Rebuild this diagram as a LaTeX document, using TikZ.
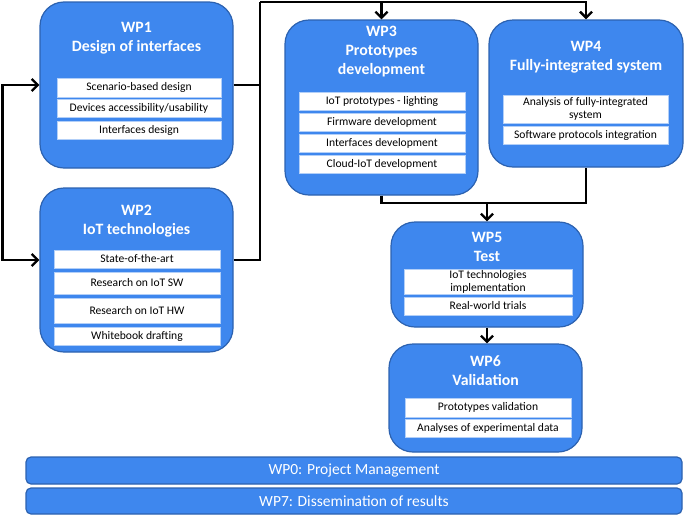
\documentclass[tikz,border=0pt]{standalone}
\usepackage{fontspec}
\setmainfont{Carlito}
\usetikzlibrary{arrows.meta}
\definecolor{wpfill}{RGB}{62,135,238}
\definecolor{wpedge}{RGB}{44,98,176}
\tikzset{
  wpbox/.style={draw=wpedge, line width=1.2pt, fill=wpfill, rounded corners=24pt, inner sep=0pt},
  wpbar/.style={draw=wpedge, line width=1.2pt, fill=wpfill, rounded corners=5pt, inner sep=0pt,
    minimum width=656pt, text=white, font=\fontsize{15.5}{18}\selectfont},
  wptitle/.style={text=white, align=center, font=\fontsize{15.8}{19}\selectfont\bfseries},
  task/.style={fill=white, draw=wpfill!40, line width=0.4pt, inner sep=0pt, align=center,
    font=\fontsize{11.6}{13}\selectfont},
  barb/.tip={Straight Barb[length=6pt,width=12pt,line width=2.4pt]},
  flow/.style={line width=2.6pt, -barb},
  link/.style={line width=2.6pt}
}
\begin{document}
\begin{tikzpicture}[x=1pt,y=-1pt]
    \useasboundingbox (0,0) rectangle (685,517);
    \node [wpbox, minimum width=193pt, minimum height=166pt] (wp1) at (136.5,85) {};
    \node [wptitle] (wp1t) at (136.5,38) {WP1\\Design of interfaces};
    \node [task, minimum width=164pt, minimum height=19pt] (wp1a) at (139,87.5) {Scenario-based design};
    \node [task, minimum width=164pt, minimum height=18pt] (wp1b) at (139,108) {Devices accessibility/usability};
    \node [task, minimum width=164pt, minimum height=18pt] (wp1c) at (139,130) {Interfaces design};

    \node [wpbox, minimum width=193pt, minimum height=164pt] (wp2) at (136.5,270) {};
    \node [wptitle] (wp2t) at (136.5,221) {WP2\\IoT technologies};
    \node [task, minimum width=166pt, minimum height=18pt] (wp2a) at (137,259) {State-of-the-art};
    \node [task, minimum width=166pt, minimum height=22pt] (wp2b) at (137,283) {Research on IoT SW};
    \node [task, minimum width=166pt, minimum height=25pt] (wp2c) at (137,310.5) {Research on IoT HW};
    \node [task, minimum width=166pt, minimum height=18pt] (wp2d) at (137,336) {Whitebook drafting};

    \node [wpbox, minimum width=193pt, minimum height=175pt] (wp3) at (381.5,107.5) {};
    \node [wptitle] (wp3t) at (381.5,51.5) {WP3\\Prototypes\\development};
    \node [task, minimum width=166pt, minimum height=18pt] (wp3a) at (382,101) {IoT prototypes - lighting};
    \node [task, minimum width=166pt, minimum height=18pt] (wp3b) at (382,122) {Firmware development};
    \node [task, minimum width=166pt, minimum height=18pt] (wp3c) at (382,143) {Interfaces development};
    \node [task, minimum width=166pt, minimum height=18pt] (wp3d) at (382,164) {Cloud-IoT development};

    \node [wpbox, minimum width=194pt, minimum height=147pt] (wp4) at (586,93.5) {};
    \node [wptitle] (wp4t) at (586,57.5) {WP4\\Fully-integrated system};
    \node [task, minimum width=165pt, minimum height=28pt] (wp4a) at (585.5,109) {Analysis of fully-integrated\\system};
    \node [task, minimum width=165pt, minimum height=18pt] (wp4b) at (585.5,135) {Software protocols integration};

    \node [wpbox, minimum width=192pt, minimum height=105pt] (wp5) at (487,274.5) {};
    \node [wptitle] (wp5t) at (487,247) {WP5\\Test};
    \node [task, minimum width=168pt, minimum height=25pt] (wp5a) at (488,281.5) {IoT technologies\\implementation};
    \node [task, minimum width=168pt, minimum height=18pt] (wp5b) at (488,306) {Real-world trials};

    \node [wpbox, minimum width=193pt, minimum height=108pt] (wp6) at (485.5,398) {};
    \node [wptitle] (wp6t) at (485.5,370.5) {WP6\\Validation};
    \node [task, minimum width=166pt, minimum height=19pt] (wp6a) at (488,407.5) {Prototypes validation};
    \node [task, minimum width=166pt, minimum height=18pt] (wp6b) at (488,428) {Analyses of experimental data};

    \node [wpbar, minimum height=27pt] (wp0) at (354,470.5) {WP0: Project Management};
    \node [wpbar, minimum height=26pt] (wp7) at (354,501) {WP7: Dissemination of results};

    \coordinate (bus) at (260,2);
    \coordinate (join) at (487,203);
    \draw [link, barb-barb] (wp1.west) -- ++(-37,0) |- ([yshift=10pt]wp2.west);
    \draw [link] (wp1.east) -| (bus);
    \draw [link] ([yshift=10pt]wp2.east) -| (bus);
    \draw [flow] (bus) -| (wp3.north);
    \draw [flow] (bus) -| (wp4.north);
    \draw [link] (wp3.south) |- (join) -| (wp4.south);
    \draw [flow] (join) -- (wp5.north);
    \draw [flow] (wp5.south) -- (wp5.south |- wp6.north);
\end{tikzpicture}
\end{document}
